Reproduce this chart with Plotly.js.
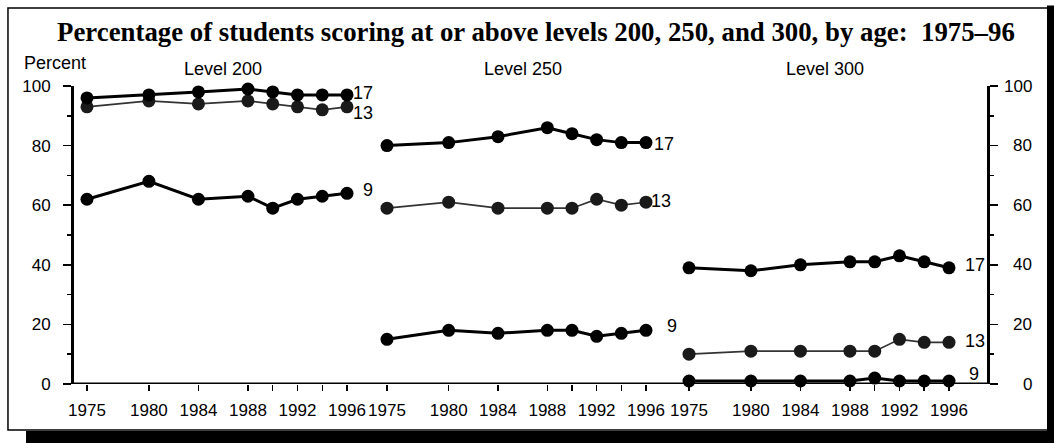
<!DOCTYPE html>
<html>
<head>
<meta charset="utf-8">
<script src="https://cdn.plot.ly/plotly-3.0.1.min.js"></script>
<style>
  html, body { margin: 0; padding: 0; background: #fff; }
  #chart { width: 1054px; height: 443px; }
</style>
</head>
<body>
<div id="chart"></div>
<script>
// ---- Data ----
const years = [1975, 1980, 1984, 1988, 1990, 1992, 1994, 1996];
const tickYears = [1975, 1980, 1984, 1988, 1990, 1992, 1994, 1996];
const tickLabels = ['1975', '1980', '1984', '1988', '', '1992', '', '1996'];
const yTickValues = [0, 20, 40, 60, 80, 100];
const panelTitles = ['Level 200', 'Level 250', 'Level 300'];
const ageLabels = ['9', '13', '17'];

const level200Age9  = [62, 68, 62, 63, 59, 62, 63, 64];
const level200Age13 = [93, 95, 94, 95, 94, 93, 92, 93];
const level200Age17 = [96, 97, 98, 99, 98, 97, 97, 97];

const level250Age9  = [15, 18, 17, 18, 18, 16, 17, 18];
const level250Age13 = [59, 61, 59, 59, 59, 62, 60, 61];
const level250Age17 = [80, 81, 83, 86, 84, 82, 81, 81];

const level300Age9  = [1, 1, 1, 1, 2, 1, 1, 1];
const level300Age13 = [10, 11, 11, 11, 11, 15, 14, 14];
const level300Age17 = [39, 38, 40, 41, 41, 43, 41, 39];

const chartTitle = 'Percentage of students scoring at or above levels 200, 250, and 300, by age:\u00a0 1975\u201396';
const yLabel = 'Percent';

// ---- Build ----
const panels = [
  [level200Age9, level200Age13, level200Age17],
  [level250Age9, level250Age13, level250Age17],
  [level300Age9, level300Age13, level300Age17]
];
const xAxisIds = ['x', 'x2', 'x3'];
const yAxisIds = ['y', 'y', 'y2'];
const domains = [[0.00284, 0.31376], [0.33043, 0.64010], [0.66007, 0.97094]];

// label placements (pixel shifts and y spots) for the age labels at line ends
const endLabelSpots = [
  [{y: 65, dx: 14}, {y: 91, dx: 4}, {y: 97.6, dx: 4}],
  [{y: 19.5, dx: 19}, {y: 61.5, dx: 3}, {y: 80.5, dx: 6}],
  [{y: 3.3, dx: 18}, {y: 14.5, dx: 14}, {y: 40, dx: 14}]
];

const SANS = 'Liberation Sans, Arial, Helvetica, sans-serif';
const FS_TICK = 17;
const FS_TEXT = 18;

const traces = [];
panels.forEach((series, p) => {
  // draw age 13 (thin grey) first, then thick ones
  [1, 0, 2].forEach(a => {
    const thin = a === 1;
    traces.push({
      type: 'scatter',
      mode: 'lines+markers',
      x: years,
      y: series[a],
      xaxis: xAxisIds[p],
      yaxis: yAxisIds[p],
      name: 'Age ' + ageLabels[a],
      cliponaxis: false,
      showlegend: false,
      hoverinfo: 'x+y',
      line: {color: thin ? '#333' : '#000', width: thin ? 1.7 : 3},
      marker: {color: thin ? '#1a1a1a' : '#000', size: 13, line: {width: 0}}
    });
  });
});

const annotations = [];
// panel titles
panelTitles.forEach((t, p) => {
  annotations.push({
    text: t, xref: xAxisIds[p], x: 1986, yref: 'paper', y: 1.057,
    xanchor: 'center', yanchor: 'middle', showarrow: false,
    font: {family: SANS, size: FS_TEXT, color: '#000'}
  });
});
// end labels
panels.forEach((series, p) => {
  ageLabels.forEach((lab, a) => {
    const s = endLabelSpots[p][a];
    annotations.push({
      text: lab, xref: xAxisIds[p], x: years[years.length - 1], yref: 'y', y: s.y,
      xanchor: 'left', yanchor: 'middle', xshift: s.dx, showarrow: false,
      font: {family: SANS, size: FS_TEXT, color: '#000'}
    });
  });
});
// "Percent"
annotations.push({
  text: yLabel, xref: 'paper', x: -0.0546, yref: 'paper', y: 1.077,
  xanchor: 'left', yanchor: 'middle', showarrow: false,
  font: {family: SANS, size: FS_TEXT, color: '#000'}
});
// right axis tick labels (right aligned as in the reference)
yTickValues.forEach(v => {
  annotations.push({
    text: String(v), xref: 'paper', x: 1.0502, yref: 'y', y: v,
    xanchor: 'right', yanchor: 'middle', showarrow: false,
    font: {family: SANS, size: FS_TICK, color: '#000'}
  });
});

const xaxisBase = (p) => ({
  domain: domains[p],
  range: [1974, 1997],
  anchor: 'y',
  showgrid: false, zeroline: false, showline: false,
  tickmode: 'array', tickvals: tickYears, ticktext: tickLabels,
  ticks: 'outside', ticklen: 6, tickwidth: 1.5, tickcolor: '#000',
  ticklabelstandoff: 5,
  tickfont: {family: SANS, size: FS_TICK, color: '#000'},
  fixedrange: true
});

const yaxisCommon = {
  range: [0, 100],
  showgrid: false, zeroline: false,
  showline: true, linewidth: 3, linecolor: '#000',
  tickmode: 'array', tickvals: yTickValues,
  ticks: 'outside', ticklen: 8, tickwidth: 1.5, tickcolor: '#000',
  minor: {dtick: 10, tick0: 0, ticks: 'outside', ticklen: 4, tickwidth: 1.5, tickcolor: '#000'},
  tickfont: {family: SANS, size: FS_TICK, color: '#000'},
  fixedrange: true
};

const shapes = [
  // baseline across all panels
  {type: 'line', xref: 'paper', yref: 'y', x0: 0, x1: 1, y0: 0, y1: 0,
   line: {color: '#000', width: 3}, layer: 'below'},
  // thin frame
  {type: 'rect', xref: 'paper', yref: 'paper', x0: -0.0699, x1: 1.0655, y0: -0.1544, y1: 1.2618,
   line: {color: '#000', width: 1.5}, fillcolor: 'rgba(0,0,0,0)', layer: 'below'},
  // thick right edge
  {type: 'rect', xref: 'paper', yref: 'paper', x0: 1.0644, x1: 1.0730, y0: -0.2, y1: 1.270,
   line: {width: 0}, fillcolor: '#000', layer: 'below'},
  // bottom shadow bar
  {type: 'rect', xref: 'paper', yref: 'paper', x0: -0.0502, x1: 1.0730, y0: -0.1577, y1: -0.2,
   line: {width: 0}, fillcolor: '#000', layer: 'below'}
];

const layout = {
  width: 1054, height: 443,
  margin: {l: 72, r: 66, t: 86, b: 59, pad: 0},
  paper_bgcolor: '#fff', plot_bgcolor: '#fff',
  showlegend: false,
  title: {
    text: chartTitle,
    xref: 'container', x: 0.5085, xanchor: 'center',
    yref: 'container', y: 1 - 32 / 443, yanchor: 'middle',
    font: {family: 'Liberation Serif, Times New Roman, serif', size: 26.8, weight: 'bold', color: '#000'}
  },
  xaxis: xaxisBase(0),
  xaxis2: xaxisBase(1),
  xaxis3: xaxisBase(2),
  yaxis: Object.assign({}, yaxisCommon, {anchor: 'free', position: 0, side: 'left', ticklabelstandoff: 9}),
  yaxis2: Object.assign({}, yaxisCommon, {anchor: 'free', position: 1, side: 'right', overlaying: 'y', showticklabels: false}),
  annotations: annotations,
  shapes: shapes
};

Plotly.newPlot('chart', traces, layout, {displayModeBar: false, staticPlot: true});
</script>
</body>
</html>
